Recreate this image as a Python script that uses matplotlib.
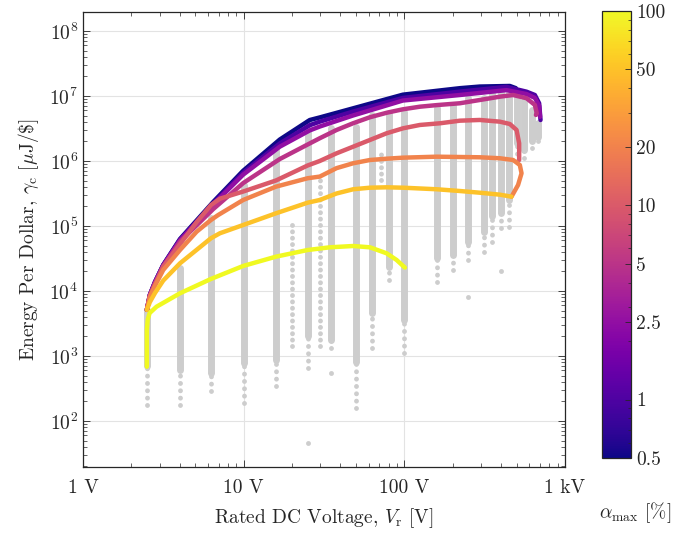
import numpy as np
import matplotlib.pyplot as plt
from matplotlib.colors import LogNorm
from matplotlib.ticker import FixedLocator, FixedFormatter, LogLocator, NullFormatter

plt.rcParams['font.family'] = 'cmr10'
plt.rcParams['mathtext.fontset'] = 'cm'
plt.rcParams['axes.formatter.use_mathtext'] = True
plt.rcParams['font.size'] = 14

# gray design points: columns at rated voltages (log10 of energy per dollar)
col_v = [2.5, 4, 6.3, 10, 16, 25, 35, 50, 63, 80, 100, 160, 200, 250, 315, 350, 400, 450, 500, 560, 620, 680]
col_top = [3.70, 4.35, 5.12, 5.63, 6.17, 6.60, 6.51, 6.53, 6.71, 6.74, 6.76, 6.81, 6.86, 6.97, 6.97, 7.04, 7.07, 7.07, 6.99, 6.94, 6.78, 6.58]
col_mid = [2.85, 2.78, 2.74, 2.89, 2.94, 3.30, 3.25, 2.90, 3.66, 4.37, 3.55, 4.50, 4.55, 4.75, 4.90, 5.15, 5.20, 5.40, 6.28, 6.17, 6.30, 6.37]
col_bot = [2.25, 2.24, 2.46, 2.28, 2.54, 2.82, 3.12, 2.20, 3.12, 4.17, 3.05, 4.14, 4.32, 4.48, 4.60, 4.75, 4.97, 4.99, 6.00, 6.05, 6.20, 6.30]

# sparse columns
sp_v = [20, 30, 72]
sp_top = [5.10, 5.76, 6.17]
sp_bot = [3.15, 3.15, 5.70]

# lone points
lone_v = [25, 35, 250, 400]
lone_g = [1.66, 2.74, 3.91, 4.31]

# Pareto fronts for each alpha_max [%] (log10 of gamma)
v_a05 = [2.5, 2.61, 2.81, 3.16, 4.02, 6.47, 9.94, 16.8, 25.8, 29.8, 48, 98, 222, 295, 454, 495]
g_a05 = [3.71, 3.94, 4.14, 4.40, 4.80, 5.37, 5.85, 6.33, 6.63, 6.67, 6.81, 7.02, 7.12, 7.145, 7.154, 7.12]

v_a1 = [2.5, 2.61, 2.81, 3.16, 4.02, 6.47, 9.94, 16.8, 25.8, 29.8, 48, 98, 222, 433, 577, 650, 691, 705]
g_a1 = [3.71, 3.94, 4.14, 4.40, 4.79, 5.35, 5.82, 6.27, 6.55, 6.605, 6.76, 6.97, 7.067, 7.14, 7.066, 7.015, 6.888, 6.63]

v_a25 = [2.5, 2.61, 2.81, 3.16, 4.02, 6.47, 9.94, 16.8, 25.8, 29.8, 48, 98, 222, 433, 577, 650, 691, 700]
g_a25 = [3.71, 3.94, 4.13, 4.39, 4.78, 5.33, 5.79, 6.22, 6.47, 6.53, 6.70, 6.93, 7.015, 7.09, 7.03, 6.97, 6.85, 6.68]

v_a5 = [2.5, 2.61, 2.81, 3.16, 4.02, 6.47, 9.94, 16.8, 25.8, 29.8, 37.9, 48, 61, 78, 98, 125, 160, 222, 295, 393, 476, 577, 650, 668, 660]
g_a5 = [3.71, 3.93, 4.12, 4.38, 4.76, 5.26, 5.66, 6.03, 6.27, 6.35, 6.477, 6.58, 6.672, 6.743, 6.795, 6.835, 6.86, 6.888, 6.938, 6.989, 7.015, 6.965, 6.862, 6.734, 6.708]

v_a10 = [2.5, 2.61, 2.81, 3.16, 4.02, 5.10, 6.26, 7.12, 9.94, 15.9, 25.0, 29.8, 37.9, 48.1, 61.1, 77.6, 98.4, 125, 167, 222, 295, 393, 454, 500, 519, 519]
g_a10 = [3.71, 3.92, 4.10, 4.374, 4.72, 5.06, 5.32, 5.42, 5.53, 5.70, 5.93, 6.00, 6.118, 6.22, 6.323, 6.426, 6.503, 6.554, 6.58, 6.62, 6.631, 6.605, 6.569, 6.477, 6.272, 6.015]

v_a20 = [2.5, 2.61, 2.81, 3.16, 4.02, 5.10, 6.26, 6.95, 9.94, 15.9, 25.0, 29.8, 37.9, 48.1, 61.1, 77.6, 98.4, 159, 295, 393, 476, 524, 537, 511, 465]
g_a20 = [3.71, 3.91, 4.08, 4.323, 4.631, 4.912, 5.092, 5.169, 5.40, 5.605, 5.734, 5.76, 5.89, 5.965, 6.015, 6.035, 6.051, 6.066, 6.057, 6.042, 6.015, 5.938, 5.811, 5.631, 5.451]

v_a50 = [2.5, 2.61, 2.81, 3.16, 4.02, 6.26, 7.12, 9.94, 15.9, 25.0, 29.8, 37.9, 48.1, 61.1, 77.6, 98.4, 159, 222, 295, 393, 465]
g_a50 = [3.71, 3.83, 3.97, 4.16, 4.426, 4.811, 4.888, 5.015, 5.195, 5.358, 5.40, 5.50, 5.565, 5.589, 5.595, 5.589, 5.565, 5.538, 5.512, 5.482, 5.451]

v_a100 = [2.5, 2.5, 2.53, 2.6, 2.87, 4.02, 6.26, 9.94, 15.9, 25.0, 34.4, 48.1, 61.1, 77.6, 89.6, 100.9]
g_a100 = [2.835, 3.40, 3.56, 3.66, 3.758, 3.965, 4.185, 4.385, 4.528, 4.63, 4.672, 4.692, 4.672, 4.58, 4.477, 4.36]

alphas = [0.5, 1, 2.5, 5, 10, 20, 50, 100]
fronts = [(v_a05, g_a05), (v_a1, g_a1), (v_a25, g_a25), (v_a5, g_a5),
          (v_a10, g_a10), (v_a20, g_a20), (v_a50, g_a50), (v_a100, g_a100)]

cb_ticks = [0.5, 1, 2.5, 5, 10, 20, 50, 100]

gray = '#cdcdcd'
norm = LogNorm(vmin=0.5, vmax=100)
cmap = plt.get_cmap('plasma')

fig = plt.figure(figsize=(6.97, 5.33), dpi=100)
ax = fig.add_axes([0.119, 0.1238, 0.6915, 0.8537])

# background design points
ax.vlines(col_v, 10 ** np.array(col_mid), 10 ** np.array(col_top), colors=gray,
          lw=5, capstyle='round', zorder=2)
ax.vlines(col_v, 10 ** np.array(col_bot), 10 ** np.array(col_mid), colors=gray,
          lw=3.5, linestyles=[(0, (0.01, 1.5))], capstyle='round', zorder=2)
ax.vlines(sp_v, 10 ** np.array(sp_bot), 10 ** np.array(sp_top), colors=gray,
          lw=3.5, linestyles=[(0, (0.01, 1.3))], capstyle='round', zorder=2)
ax.plot(lone_v, 10 ** np.array(lone_g), 'o', color=gray, ms=3.5, mec='none', zorder=2)

for a, (v, g) in zip(alphas, fronts):
    ax.plot(v, 10 ** np.array(g), color=cmap(norm(a)), lw=3.2,
            solid_capstyle='round', solid_joinstyle='round', zorder=3)

ax.set_xscale('log')
ax.set_yscale('log')
ax.set_xlim(1, 1000)
ax.set_ylim(10 ** 1.292, 10 ** 8.292)

ax.xaxis.set_major_locator(FixedLocator([1, 10, 100, 1000]))
ax.xaxis.set_major_formatter(FixedFormatter(['1 V', '10 V', '100 V', '1 kV']))
ax.xaxis.set_minor_locator(LogLocator(base=10, subs=np.arange(2, 10)))
ax.xaxis.set_minor_formatter(NullFormatter())
ax.yaxis.set_major_locator(FixedLocator([1e2, 1e3, 1e4, 1e5, 1e6, 1e7, 1e8]))
ax.yaxis.set_major_formatter(FixedFormatter([r'$10^{%d}$' % k for k in range(2, 9)]))
ax.yaxis.set_minor_locator(LogLocator(base=10, subs=np.arange(2, 10), numticks=20))
ax.yaxis.set_minor_formatter(NullFormatter())

ax.grid(True, which='major', color='#e3e3e3', lw=0.8, zorder=0)
ax.set_axisbelow(True)
ax.tick_params(which='both', direction='in', top=True, right=True, colors='#262626',
               labelcolor='#262626', labelsize=14)
ax.tick_params(which='major', length=5, width=0.6)
ax.tick_params(which='minor', length=3, width=0.5)
ax.tick_params(axis='x', which='major', pad=9)
for s in ax.spines.values():
    s.set_color('#262626')
    s.set_linewidth(0.9)

ax.set_xlabel(r'Rated DC Voltage, $V_\mathrm{r}$ [V]', fontsize=14, color='#262626', labelpad=6)
ax.set_ylabel(r'Energy Per Dollar, $\gamma_\mathrm{c}$ $[\mu\mathrm{J}/\$]$', fontsize=14,
              color='#262626', labelpad=6)

# colorbar
cax = fig.add_axes([0.8637, 0.1407, 0.0416, 0.8387])
sm = plt.cm.ScalarMappable(norm=norm, cmap=cmap)
cb = fig.colorbar(sm, cax=cax)
cb.set_ticks(cb_ticks)
cb.set_ticklabels(['0.5', '1', '2.5', '5', '10', '20', '50', '100'])
cax.yaxis.set_minor_locator(LogLocator(base=10, subs=np.arange(2, 10)))
cax.yaxis.set_minor_formatter(NullFormatter())
cax.tick_params(which='both', direction='in', colors='#262626', labelcolor='#262626', labelsize=14)
cax.tick_params(which='major', length=4, width=0.6)
cax.tick_params(which='minor', length=2.5, width=0.5)
cb.outline.set_edgecolor('#262626')
cb.outline.set_linewidth(0.9)
fig.text(0.911, 0.039, r'$\alpha_\mathrm{max}$ [%]', fontsize=14, color='#262626',
         ha='center', va='center')

fig.savefig('out.png', dpi=100)
